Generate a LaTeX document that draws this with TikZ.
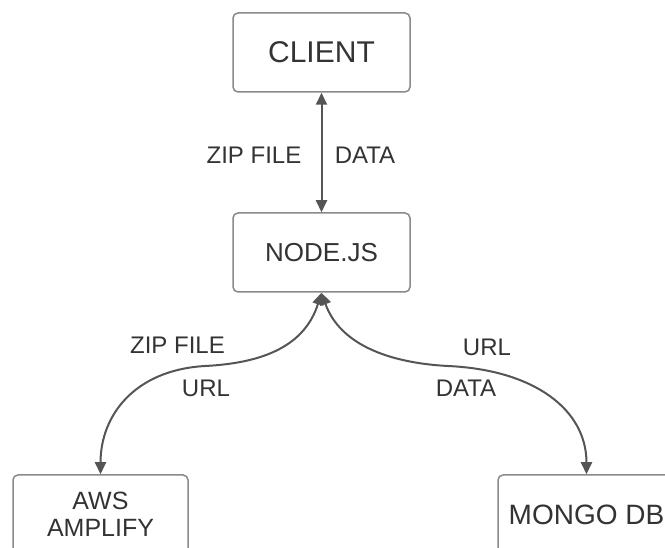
\documentclass[tikz,border=0pt]{standalone}
\usepackage{fontspec}
\setmainfont{Liberation Sans}
\usetikzlibrary{arrows.meta}
\definecolor{boxline}{HTML}{8A8A8A}
\definecolor{conn}{HTML}{555555}
\definecolor{txt}{HTML}{333333}
\tikzset{
  box/.style={draw=boxline, line width=1.5pt, rounded corners=5pt, fill=white,
    minimum width=177pt, minimum height=79pt, inner sep=0pt, text=txt, align=center},
  conn/.style={draw=conn, line width=2pt, {Triangle[width=11pt,length=12pt]}-{Triangle[width=11pt,length=12pt]}},
  lbl/.style={text=txt, inner sep=0pt, font=\fontsize{24}{28}\selectfont}
}
\begin{document}
\begin{tikzpicture}[x=1pt,y=-1pt]
\useasboundingbox (0,0) rectangle (665,548);
\fill[white] (0,0) rectangle (665,548);
\clip (0,0) rectangle (665,548);
\node[box, font=\fontsize{30}{36}\selectfont] (client) at (321.5,52.5) {CLIENT};
\node[box, font=\fontsize{26}{31}\selectfont] (nodejs) at (321.5,252.5) {NODE.JS};
\node[box, minimum width=175pt, font=\fontsize{25}{27}\selectfont] (aws) at (100.5,514.5) {AWS\\AMPLIFY};
\node[box, font=\fontsize{28}{33}\selectfont] (mongo) at (586.5,514.5) {MONGO DB};
\coordinate (lmid) at (205,366);
\coordinate (rmid) at (448,366);
\draw[conn] (client) -- (nodejs);
\draw[conn] (nodejs.south) .. controls (305,345) and (265,363) .. (lmid) .. controls (135,370) and (100.5,415) .. (aws.north);
\draw[conn] (nodejs.south) .. controls (340,345) and (390,363) .. (rmid) .. controls (535,370) and (586.5,410) .. (mongo.north);
\node[lbl] (l1) at (254,155) {ZIP FILE};
\node[lbl] (l2) at (365,155) {DATA};
\node[lbl] (l3) at (177.5,345) {ZIP FILE};
\node[lbl] (l4) at (206,388) {URL};
\node[lbl] (l5) at (487,347) {URL};
\node[lbl] (l6) at (466,388) {DATA};
\end{tikzpicture}
\end{document}
